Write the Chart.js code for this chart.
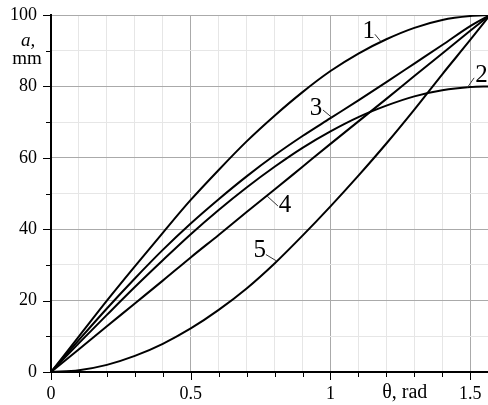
<!DOCTYPE html>
<html>
<head>
<meta charset="utf-8">
<script src="https://cdn.jsdelivr.net/npm/chart.js@4.4.1/dist/chart.umd.min.js"></script>
<style>
	html, body { margin: 0; padding: 0; background: #fff; overflow: hidden; }
	#wrap { width: 490px; height: 405px; }
</style>
</head>
<body>
<div id="wrap"><canvas id="grafico"></canvas></div>
<script>
// Ángulo de giro (rad) y desplazamiento a (mm) para las cinco leyes
const theta = [0, 0.1, 0.2, 0.3, 0.4, 0.5, 0.6, 0.7, 0.8, 0.9, 1.0, 1.1, 1.2, 1.3, 1.4, 1.5, 1.5708];
const ley1 = [0, 10, 20, 29.6, 39, 48.2, 56.6, 64.6, 71.8, 78.4, 84.3, 89.2, 93.2, 96.4, 98.6, 99.7, 100];
const ley2 = [0, 8.1, 16, 23.8, 31.3, 38.6, 45.4, 51.7, 57.5, 62.8, 67.4, 71.4, 74.6, 77.2, 78.9, 79.8, 80];
const ley3 = [0, 9, 17.8, 26.2, 34.2, 41.6, 48.4, 54.8, 60.7, 66.1, 71.1, 76.1, 81.2, 86.4, 91.6, 96.9, 100];
const ley4 = [0, 6.4, 12.8, 19.2, 25.6, 32.1, 38.4, 44.8, 51.1, 57.5, 63.9, 70.2, 76.5, 82.9, 89.2, 95.6, 100];
const ley5 = [0, 0.5, 2, 4.5, 7.9, 12.2, 17.4, 23.4, 30.4, 38.2, 46.4, 55, 64, 73.5, 83.4, 93, 100];
const leyes = [ley1, ley2, ley3, ley4, ley5];

// Etiquetas de las ticks
const xEtiquetas = [0, 0.5, 1, 1.5];
const yEtiquetas = [0, 20, 40, 60, 80, 100];

const serif = 'Liberation Serif';

function esMultiplo(v, paso) {
	const q = v / paso;
	return Math.abs(q - Math.round(q)) < 1e-6;
}

// Números de curva con su línea de referencia (en unidades de datos)
const numeros = [
	{ txt: '1', tx: 1.137, ty: 95.3, x0: 1.159, y0: 94.6, x1: 1.18, y1: 92.6 },
	{ txt: '2', tx: 1.54, ty: 83.2, x0: 1.514, y0: 82.4, x1: 1.49, y1: 79.7 },
	{ txt: '3', tx: 0.948, ty: 73.8, x0: 0.973, y0: 73.4, x1: 1.005, y1: 71.3 },
	{ txt: '4', tx: 0.837, ty: 46.6, x0: 0.773, y0: 49.3, x1: 0.812, y1: 46.5 },
	{ txt: '5', tx: 0.747, ty: 34.0, x0: 0.769, y0: 32.9, x1: 0.805, y1: 31.2 }
];

const anotaciones = {
	id: 'anotaciones',
	afterDatasetsDraw(chart) {
		const { ctx, chartArea, scales: { x, y } } = chart;
		ctx.save();

		// marcas de los ejes
		ctx.strokeStyle = '#000';
		ctx.lineWidth = 1;
		y.ticks.forEach(t => {
			if (!esMultiplo(t.value, 10)) return;
			const py = Math.round(y.getPixelForValue(t.value)) + 0.5;
			const len = esMultiplo(t.value, 20) ? 7 : 4;
			ctx.beginPath();
			ctx.moveTo(chartArea.left - 1, py);
			ctx.lineTo(chartArea.left - 1 - len, py);
			ctx.stroke();
		});
		x.ticks.forEach(t => {
			if (!esMultiplo(t.value, 0.1)) return;
			const px = Math.round(x.getPixelForValue(t.value)) + 0.5;
			const len = esMultiplo(t.value, 0.5) ? 7 : 4;
			ctx.beginPath();
			ctx.moveTo(px, chartArea.bottom + 1);
			ctx.lineTo(px, chartArea.bottom + 1 + len);
			ctx.stroke();
		});

		// números de las curvas
		ctx.fillStyle = '#000';
		ctx.font = '25px "' + serif + '"';
		ctx.textAlign = 'center';
		ctx.textBaseline = 'middle';
		numeros.forEach(n => {
			ctx.strokeStyle = '#333';
			ctx.beginPath();
			ctx.moveTo(x.getPixelForValue(n.x0), y.getPixelForValue(n.y0));
			ctx.lineTo(x.getPixelForValue(n.x1), y.getPixelForValue(n.y1));
			ctx.stroke();
			ctx.fillText(n.txt, x.getPixelForValue(n.tx), y.getPixelForValue(n.ty));
		});

		// título del eje y
		ctx.font = 'italic 19px "' + serif + '"';
		ctx.fillText('a,', chartArea.left - 23, y.getPixelForValue(92.8));
		ctx.font = '19px "' + serif + '"';
		ctx.fillText('mm', chartArea.left - 24, y.getPixelForValue(87.6));

		// título del eje x, en la línea de las etiquetas
		ctx.font = '20px "' + serif + '"';
		ctx.fillText('θ, rad', x.getPixelForValue(1.266), chartArea.bottom + 21);

		ctx.restore();
	}
};

const ctx = document.getElementById('grafico').getContext('2d');
new Chart(ctx, {
	type: 'scatter',
	data: {
		datasets: leyes.map((ley, i) => ({
			label: 'Ley ' + (i + 1),
			data: theta.map((t, k) => ({ x: t, y: ley[k] })),
			showLine: true
		}))
	},
	options: {
		responsive: true,
		maintainAspectRatio: false,
		animation: false,
		layout: { padding: { top: 15, right: 0, left: 0, bottom: 0 } },
		plugins: {
			legend: { display: false },
			tooltip: { enabled: false }
		},
		elements: {
			point: { radius: 0 },
			line: { borderWidth: 2, borderColor: '#000', cubicInterpolationMode: 'monotone' }
		},
		scales: {
			x: {
				type: 'linear',
				min: 0,
				max: 1.5708,
				ticks: {
					stepSize: 0.1,
					includeBounds: false,
					autoSkip: false,
					maxRotation: 0,
					padding: 2,
					color: '#000',
					font: { family: serif, size: 18 },
					callback: v => {
						const e = xEtiquetas.find(e => Math.abs(e - v) < 1e-6);
						return e === undefined ? '' : String(e);
					}
				},
				grid: {
					color: c => {
						const v = c.tick.value;
						if (esMultiplo(v, 0.5)) return '#aaaaaa';
						if (esMultiplo(v, 0.1)) return '#e6e6e6';
						return 'transparent';
					},
					tickLength: 9,
					tickColor: 'transparent'
				},
				border: { color: '#000', width: 2 },
				afterFit: s => { s.height = 33; }
			},
			y: {
				min: 0,
				max: 100,
				ticks: {
					stepSize: 10,
					autoSkip: false,
					padding: 4,
					color: '#000',
					font: { family: serif, size: 18 },
					callback: v => yEtiquetas.includes(v) ? String(v) : ''
				},
				grid: {
					color: c => esMultiplo(c.tick.value, 20) ? '#aaaaaa' : '#e6e6e6',
					tickLength: 10,
					tickColor: 'transparent'
				},
				border: { color: '#000', width: 2 },
				afterFit: s => { s.width = 51; }
			}
		}
	},
	plugins: [anotaciones]
});
</script>
</body>
</html>
